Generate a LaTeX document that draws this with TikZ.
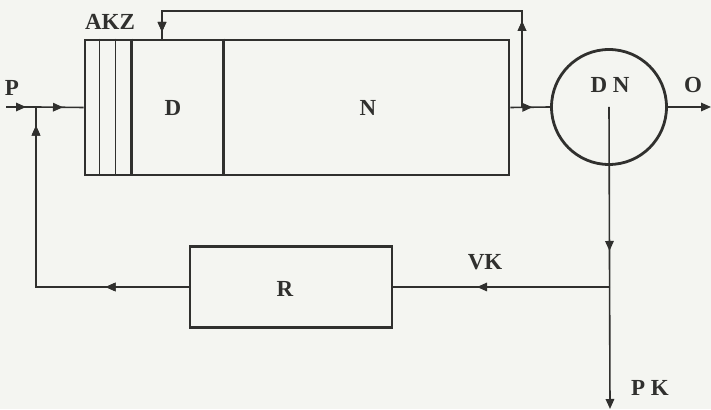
\documentclass[tikz,border=0pt]{standalone}
\usepackage{xcolor}
\usepackage{tikz}
\usepackage{fontspec}
\setmainfont{Liberation Serif}
\usetikzlibrary{arrows.meta,decorations.markings}
\definecolor{papergray}{RGB}{244, 245, 241}
\definecolor{inkgray}{RGB}{48, 48, 46}

\tikzset{
  blockbox/.style={draw=inkgray, line width=2.8pt, inner sep=0pt},
  flowline/.style={draw=inkgray, line width=1.6pt},
  boldlabel/.style={text=inkgray, font=\bfseries\fontsize{23}{23}\selectfont, inner sep=0pt},
  midtip/.style={postaction={decorate}, decoration={markings,
      mark=at position #1 with {\arrow{Triangle[length=10pt,width=8.5pt]}}}},
  endtip/.style={-{Triangle[length=10pt,width=8.5pt]}}
}

\begin{document}
\begin{tikzpicture}[x=1pt,y=1pt]
\useasboundingbox[fill=papergray] (0,0) rectangle (711,409);

% Blocks of the plant
\node[blockbox, minimum width=424pt, minimum height=135pt] (ds) at (297,301.5) {};
\node[blockbox, draw, circle, minimum size=115pt] (dn) at (609,302) {};
\node[blockbox, minimum width=202pt, minimum height=81pt] (reg) at (291,122) {};

% Division of the main block
\foreach \dx/\lw in {16/1.6pt, 32/1.6pt, 48/2.6pt, 140/2.8pt}
  \draw[draw=inkgray, line width=\lw] ([xshift=\dx pt]ds.north west) -- ([xshift=\dx pt]ds.south west);

% Labels
\node[boldlabel] (lp) at (12,321) {P};
\node[boldlabel] (lakz) at (110,387) {AKZ};
\node[boldlabel] (ld) at (173,301) {D};
\node[boldlabel] (ln) at (368,301) {N};
\node[boldlabel] (ldn) at (610,324) {D N};
\node[boldlabel] (lo) at (693,324) {O};
\node[boldlabel] (lr) at (285,120) {R};
\node[boldlabel] (lvk) at (485,147) {VK};
\node[boldlabel] (lpk) at (650,21) {P K};

% Junctions and free ends
\coordinate (in) at (6,302);
\coordinate (j1) at (36,302);
\coordinate (j2) at (522,302);
\coordinate (j3) at (610,122);
\coordinate (topR) at (522,398);
\coordinate (topL) at (162,398);
\coordinate (out) at (711,302);
\coordinate (down) at (610,0);
\coordinate (fbL) at (36,122);

% Input and forward path
\draw[flowline, midtip=20pt] (in) -- (j1);
\draw[flowline, midtip=27pt] (j1) -- (ds.west);
\draw[flowline, midtip=22pt] (ds.east) -- (dn.west);
\draw[flowline, endtip] (dn.east) -- (out);

% Bypass over the block
\draw[flowline, midtip=86pt, midtip=477pt] (j2) -- (topR) -- (topL) -- (topL |- ds.north);

% Output line and feedback
\draw[flowline, midtip=144pt, endtip] (dn.center) -- (down);
\draw[flowline, midtip=133pt] (j3) -- (reg.east);
\draw[flowline, midtip=83pt, midtip=314pt] (reg.west) -- (fbL) -- (j1);
\end{tikzpicture}
\end{document}
